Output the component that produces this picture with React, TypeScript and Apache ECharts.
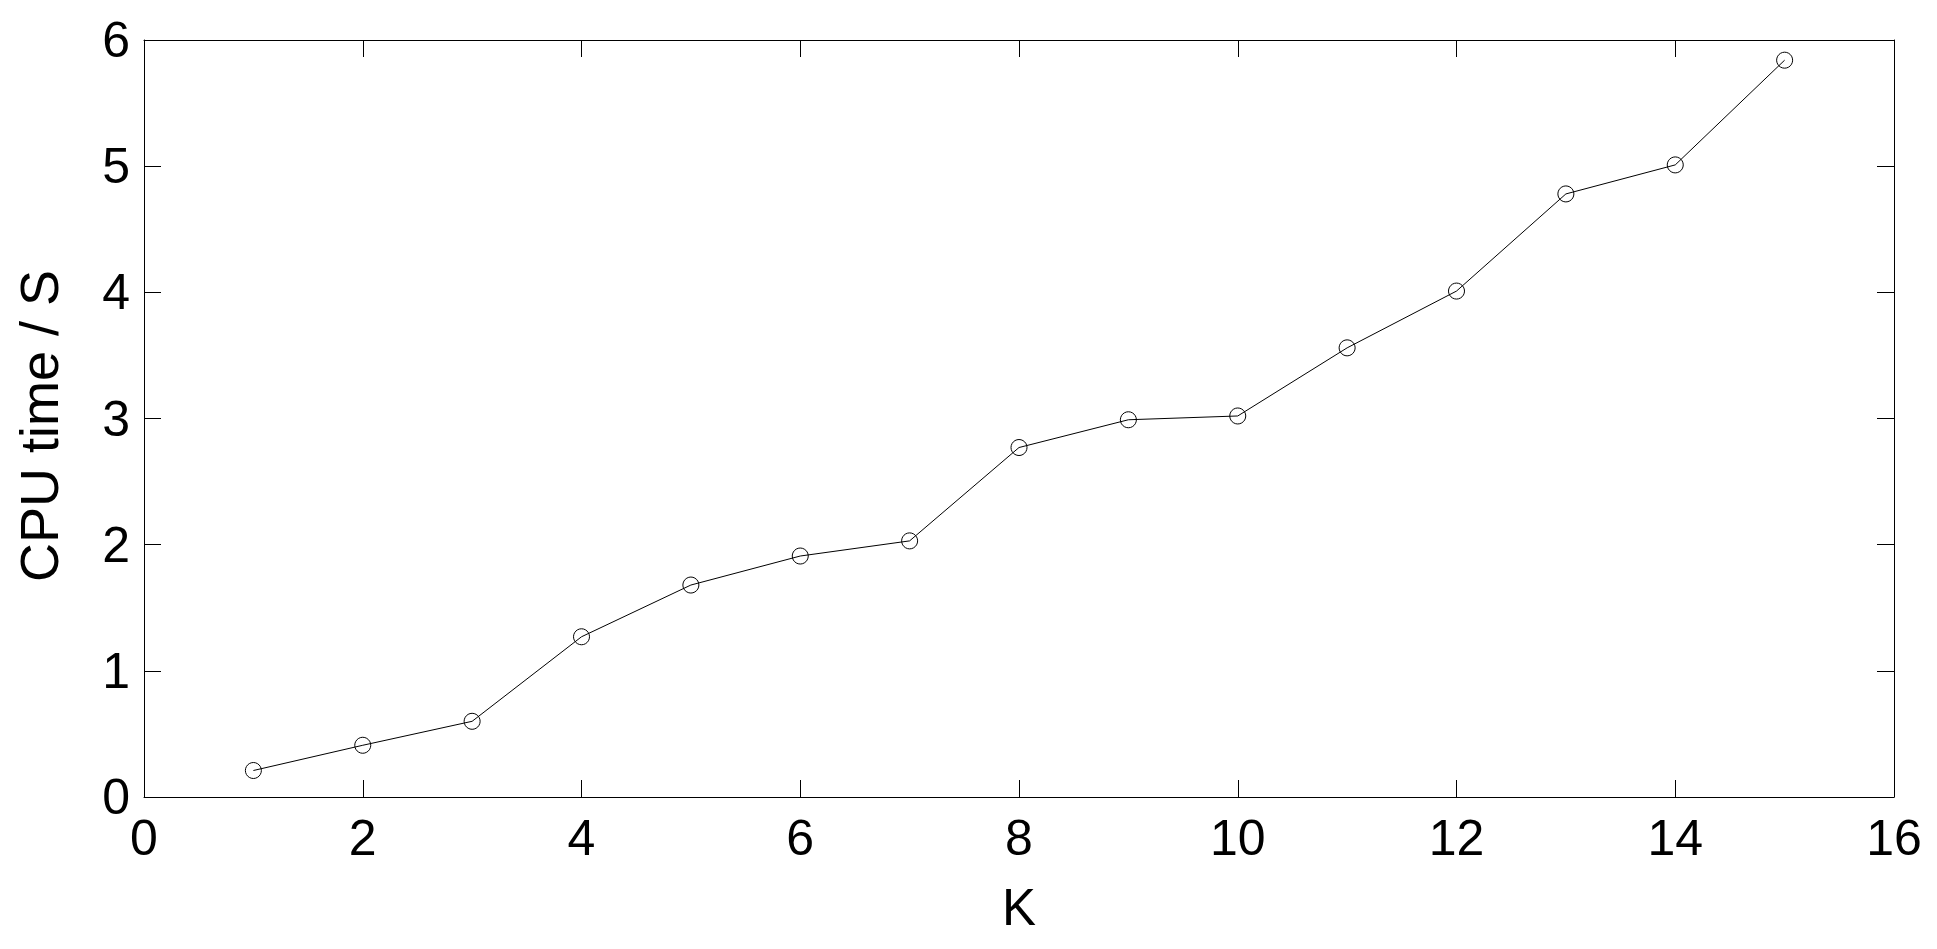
import React, { useEffect, useRef } from "react";
import * as echarts from "echarts";

const kValues = [1, 2, 3, 4, 5, 6, 7, 8, 9, 10, 11, 12, 13, 14, 15];
const cpuTimes = [0.21, 0.41, 0.6, 1.27, 1.68, 1.91, 2.03, 2.77, 2.99, 3.02, 3.56, 4.01, 4.78, 5.01, 5.84];
const xRange = { min: 0, max: 16, interval: 2 };
const yRange = { min: 0, max: 6, interval: 1 };
const xName = "K";
const yName = "CPU time / S";

const FONT = "'Liberation Sans', Arial, Helvetica, sans-serif";

export default function App() {
  const ref = useRef<HTMLDivElement>(null);
  useEffect(() => {
    if (!ref.current) return;
    const chart = echarts.init(ref.current, undefined, { renderer: "svg" });
    const axisLine = { show: true, onZero: false, lineStyle: { color: "#000", width: 1 } };
    const axisTick = { show: true, inside: true, length: 17, lineStyle: { color: "#000", width: 1 } };
    const labelStyle = { color: "#000", fontSize: 50, fontFamily: FONT };
    chart.setOption({
      animation: false,
      backgroundColor: "#fff",
      grid: { left: 144, top: 40, width: 1750, height: 757, show: false },
      xAxis: [
        {
          type: "value",
          position: "bottom",
          ...xRange,
          axisLine,
          axisTick,
          splitLine: { show: false },
          axisLabel: { ...labelStyle, margin: 16, showMinLabel: true, showMaxLabel: true },
          name: xName,
          nameLocation: "middle",
          nameGap: 85,
          nameTextStyle: { ...labelStyle, fontSize: 51 },
        },
        {
          type: "value",
          position: "top",
          ...xRange,
          axisLine,
          axisTick,
          splitLine: { show: false },
          axisLabel: { show: false },
        },
      ],
      yAxis: [
        {
          type: "value",
          position: "left",
          ...yRange,
          axisLine,
          axisTick,
          splitLine: { show: false },
          axisLabel: { ...labelStyle, margin: 14, showMinLabel: true, showMaxLabel: true },
          name: yName,
          nameLocation: "middle",
          nameGap: 78,
          nameTextStyle: { ...labelStyle, fontSize: 54, padding: [0, 15, 0, 0] },
        },
        {
          type: "value",
          position: "right",
          ...yRange,
          axisLine,
          axisTick,
          splitLine: { show: false },
          axisLabel: { show: false },
        },
      ],
      series: [
        {
          type: "line",
          xAxisIndex: 0,
          yAxisIndex: 0,
          data: kValues.map((k, i) => [k, cpuTimes[i]]),
          symbol: "circle",
          symbolSize: 16,
          showSymbol: true,
          itemStyle: { color: "rgba(0,0,0,0)", borderColor: "#000", borderWidth: 1 },
          lineStyle: { color: "#000", width: 1 },
        },
      ],
    });
    return () => chart.dispose();
  }, []);
  return (
    <div
      ref={ref}
      style={{ position: "fixed", left: 0, top: 0, width: 1937, height: 949, background: "#fff" }}
    />
  );
}
